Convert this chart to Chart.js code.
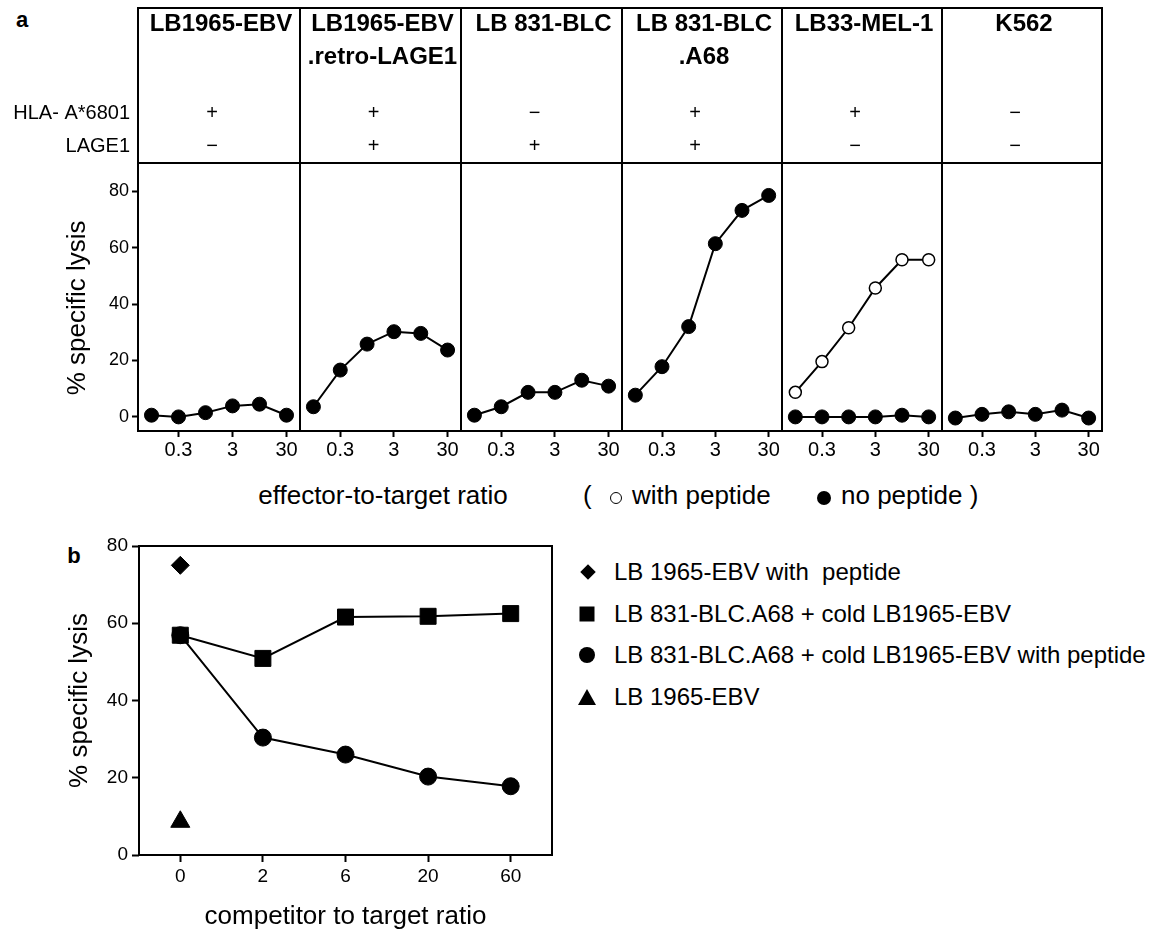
<!DOCTYPE html>
<html>
<head>
<meta charset="utf-8">
<title>LAGE1 lysis</title>
<script src="https://cdn.jsdelivr.net/npm/chart.js@4.4.0/dist/chart.umd.min.js"></script>
<style>
  body { margin: 0; background: #fff; }
  #fig { position: relative; width: 1152px; height: 931px; overflow: hidden;
         font-family: 'Liberation Sans', Arial, Helvetica, sans-serif; color: #000; }
  #fig canvas { position: absolute; }
  .txt { position: absolute; white-space: pre; line-height: 1.15; transform: translateY(-50%); }
  .mid { transform: translate(-50%, -50%); }
  .mark { position: absolute; transform: translate(-50%, -50%); box-sizing: border-box; }
</style>
</head>
<body>
<div id="fig">
  <div class="txt mid" style="left:22px;top:20px;font-size:22px;font-weight:bold">a</div>
  <div class="txt mid" style="left:74px;top:556px;font-size:22px;font-weight:bold">b</div>

  <div class="txt mid" style="left:383px;top:496px;font-size:26px">effector-to-target ratio</div>
  <div class="txt" style="left:583px;top:496px;font-size:26px">(</div>
  <div class="mark" style="left:616px;top:498px;width:12px;height:12px;border:1.5px solid #000;border-radius:50%;background:#fff"></div>
  <div class="txt" style="left:632px;top:496px;font-size:26px">with peptide</div>
  <div class="mark" style="left:824px;top:498px;width:14px;height:14px;border-radius:50%;background:#000"></div>
  <div class="txt" style="left:841px;top:496px;font-size:26px">no peptide )</div>

  <div class="mark" style="left:588px;top:572px;width:11px;height:11px;background:#000;transform:translate(-50%,-50%) rotate(45deg)"></div>
  <div class="mark" style="left:587px;top:614px;width:15px;height:15px;background:#000"></div>
  <div class="mark" style="left:587px;top:655px;width:16px;height:16px;border-radius:50%;background:#000"></div>
  <div class="mark" style="left:587px;top:697px;width:0;height:0;border-left:9.5px solid transparent;border-right:9.5px solid transparent;border-bottom:16px solid #000"></div>
</div>

<script>
const FONT = "'Liberation Sans', Arial, Helvetica, sans-serif";
Chart.defaults.font.family = FONT;
Chart.defaults.color = '#000';

// panel a: effector-to-target ratios and % specific lysis per target
const ratios = ['0.1', '0.3', '1', '3', '10', '30'];
const ratioTicks = ['0.3', '3', '30'];
const lysisTicks = [0, 20, 40, 60, 80];

const targetLines = [
  ['LB1965-EBV'],
  ['LB1965-EBV', '.retro-LAGE1'],
  ['LB 831-BLC'],
  ['LB 831-BLC', '.A68'],
  ['LB33-MEL-1'],
  ['K562']
];
const hlaA6801 = ['+', '+', '\u2212', '+', '+', '\u2212'];
const lage1 = ['\u2212', '+', '+', '+', '\u2212', '\u2212'];

const lysisLB1965 = [0.6, 0, 1.5, 3.9, 4.5, 0.6];
const lysisLB1965Retro = [3.6, 16.6, 25.8, 30.2, 29.6, 23.7];
const lysisLB831 = [0.6, 3.6, 8.7, 8.7, 13.0, 10.9];
const lysisLB831A68 = [7.7, 17.8, 32.0, 61.4, 73.2, 78.5];
const lysisLB33 = [0, 0, 0, 0, 0.6, 0];
const lysisLB33Peptide = [8.7, 19.6, 31.6, 45.7, 55.7, 55.7];
const lysisK562 = [-0.4, 0.9, 1.8, 0.9, 2.4, -0.4];

const lysisNoPeptide = [lysisLB1965, lysisLB1965Retro, lysisLB831, lysisLB831A68, lysisLB33, lysisK562];
const lysisWithPeptide = [null, null, null, null, lysisLB33Peptide, null];

// panel b: cold target competition
const competitorRatios = ['0', '2', '6', '20', '60'];
const lysisTicksB = [0, 20, 40, 60, 80];
const seriesNames = [
  'LB 1965-EBV with  peptide',
  'LB 831-BLC.A68 + cold LB1965-EBV',
  'LB 831-BLC.A68 + cold LB1965-EBV with peptide',
  'LB 1965-EBV'
];
const ebvWithPeptide = [75, null, null, null, null];
const coldEbv = [56.9, 50.9, 61.6, 61.8, 62.5];
const coldEbvWithPeptide = [56.9, 30.4, 26.0, 20.3, 17.8];
const ebvAlone = [8.6, null, null, null, null];

const fig = document.getElementById('fig');
const colEdges = [138, 300, 461, 622, 782, 942, 1102];

// box around the plot area, plus the header cell for panel a
function frame(cell) {
  return {
    id: 'frame',
    afterDraw(chart) {
      const { ctx, chartArea: a } = chart;
      const top = cell == null ? a.top : 8;
      ctx.save();
      ctx.strokeStyle = '#000';
      ctx.lineWidth = 2;
      ctx.strokeRect(a.left, top, a.right - a.left, a.bottom - top);
      if (cell != null) {
        ctx.beginPath();
        ctx.moveTo(a.left, a.top);
        ctx.lineTo(a.right, a.top);
        ctx.stroke();
        const cx = (a.left + a.right) / 2;
        ctx.fillStyle = '#000';
        ctx.textAlign = 'center';
        ctx.textBaseline = 'middle';
        ctx.font = 'bold 24px ' + FONT;
        targetLines[cell].forEach((t, k) => ctx.fillText(t, cx + 2, 24 + 33 * k));
        ctx.font = '20px ' + FONT;
        ctx.fillText(hlaA6801[cell], cx - 7, 113);
        ctx.fillText(lage1[cell], cx - 7, 146);
        if (cell === 0) {
          ctx.textAlign = 'right';
          ctx.fillText('HLA- A*6801', 130, 113);
          ctx.fillText('LAGE1', 130, 146);
        }
      }
      ctx.restore();
    }
  };
}

function addCanvas(left, top, width, height) {
  const c = document.createElement('canvas');
  c.width = width;
  c.height = height;
  c.style.left = left + 'px';
  c.style.top = top + 'px';
  fig.appendChild(c);
  return c;
}

const tickGrid = len => ({ drawOnChartArea: false, tickLength: len, tickWidth: 2, tickColor: '#000' });

for (let i = 0; i < 6; i++) {
  const first = i === 0;
  const left = first ? 0 : colEdges[i] - 2;
  const canvas = addCanvas(left, 0, colEdges[i + 1] + 2 - left, 470);

  const datasets = [];
  if (lysisWithPeptide[i]) {
    datasets.push({
      label: 'with peptide',
      data: lysisWithPeptide[i],
      borderColor: '#000', borderWidth: 2,
      pointRadius: 6, pointBorderWidth: 1.5,
      pointBackgroundColor: '#fff', pointBorderColor: '#000'
    });
  }
  datasets.push({
    label: 'no peptide',
    data: lysisNoPeptide[i],
    borderColor: '#000', borderWidth: 2,
    pointRadius: 7, pointBorderWidth: 1,
    pointBackgroundColor: '#000', pointBorderColor: '#000'
  });

  new Chart(canvas, {
    type: 'line',
    data: { labels: ratios, datasets },
    options: {
      responsive: false,
      animation: false,
      events: [],
      layout: { autoPadding: false, padding: { top: 163, left: first ? 0 : 2, right: 2, bottom: 0 } },
      plugins: { legend: { display: false }, tooltip: { enabled: false } },
      scales: {
        x: {
          offset: true,
          border: { display: false },
          grid: {
            drawOnChartArea: false, tickLength: 6, tickWidth: 2,
            tickColor: c => ratioTicks.includes(ratios[c.index]) ? '#000' : 'rgba(0,0,0,0)'
          },
          ticks: {
            autoSkip: false, maxRotation: 0, padding: 1, font: { size: 20 },
            callback: (v, idx) => ratioTicks.includes(ratios[idx]) ? ratios[idx] : ''
          },
          afterFit: s => { s.height = 39; }
        },
        y: {
          display: first,
          min: -5,
          max: 90,
          border: { display: false },
          grid: tickGrid(6),
          ticks: { font: { size: 18 }, padding: 3 },
          afterBuildTicks: s => { s.ticks = lysisTicks.map(v => ({ value: v })); },
          afterFit: s => { if (first) s.width = 138; },
          title: {
            display: true, text: '% specific lysis   ',
            font: { size: 26, lineHeight: 1 }, padding: { top: 65, bottom: 0 }
          }
        }
      }
    },
    plugins: [frame(i)]
  });
}

// panel b
const canvasB = addCanvas(0, 520, 562, 411);
new Chart(canvasB, {
  type: 'line',
  data: {
    labels: competitorRatios,
    datasets: [
      { label: seriesNames[0], data: ebvWithPeptide, pointStyle: 'rectRot', pointRadius: 9 },
      { label: seriesNames[1], data: coldEbv, pointStyle: 'rect', pointRadius: 11.3 },
      { label: seriesNames[2], data: coldEbvWithPeptide, pointStyle: 'circle', pointRadius: 8.5 },
      { label: seriesNames[3], data: ebvAlone, pointStyle: 'triangle', pointRadius: 11 }
    ].map(d => Object.assign(d, {
      borderColor: '#000', borderWidth: 2,
      pointBackgroundColor: '#000', pointBorderColor: '#000', pointBorderWidth: 1
    }))
  },
  options: {
    responsive: false,
    animation: false,
    events: [],
    layout: { autoPadding: false, padding: { top: 26, left: 0, right: 10, bottom: 0 } },
    plugins: { legend: { display: false }, tooltip: { enabled: false } },
    scales: {
      x: {
        offset: true,
        border: { display: false },
        grid: tickGrid(7),
        ticks: { autoSkip: false, maxRotation: 0, padding: 3, font: { size: 19 } },
        afterFit: s => { s.height = 76; },
        title: {
          display: true, text: 'competitor to target ratio',
          font: { size: 26, lineHeight: 1 }, padding: { top: 0, bottom: 1 }
        }
      },
      y: {
        min: 0,
        max: 80,
        border: { display: false },
        grid: tickGrid(7),
        ticks: { font: { size: 19 }, padding: 4 },
        afterBuildTicks: s => { s.ticks = lysisTicksB.map(v => ({ value: v })); },
        afterFit: s => { s.width = 139; },
        title: {
          display: true, text: '% specific lysis',
          font: { size: 26, lineHeight: 1 }, padding: { top: 67, bottom: 0 }
        }
      }
    }
  },
  plugins: [frame(null)]
});

// legend text for panel b
const legendRows = [572, 614, 655, 697];
seriesNames.forEach((name, k) => {
  const d = document.createElement('div');
  d.className = 'txt';
  d.style.left = '614px';
  d.style.top = legendRows[k] + 'px';
  d.style.fontSize = '24px';
  d.textContent = name;
  fig.appendChild(d);
});
</script>
</body>
</html>
